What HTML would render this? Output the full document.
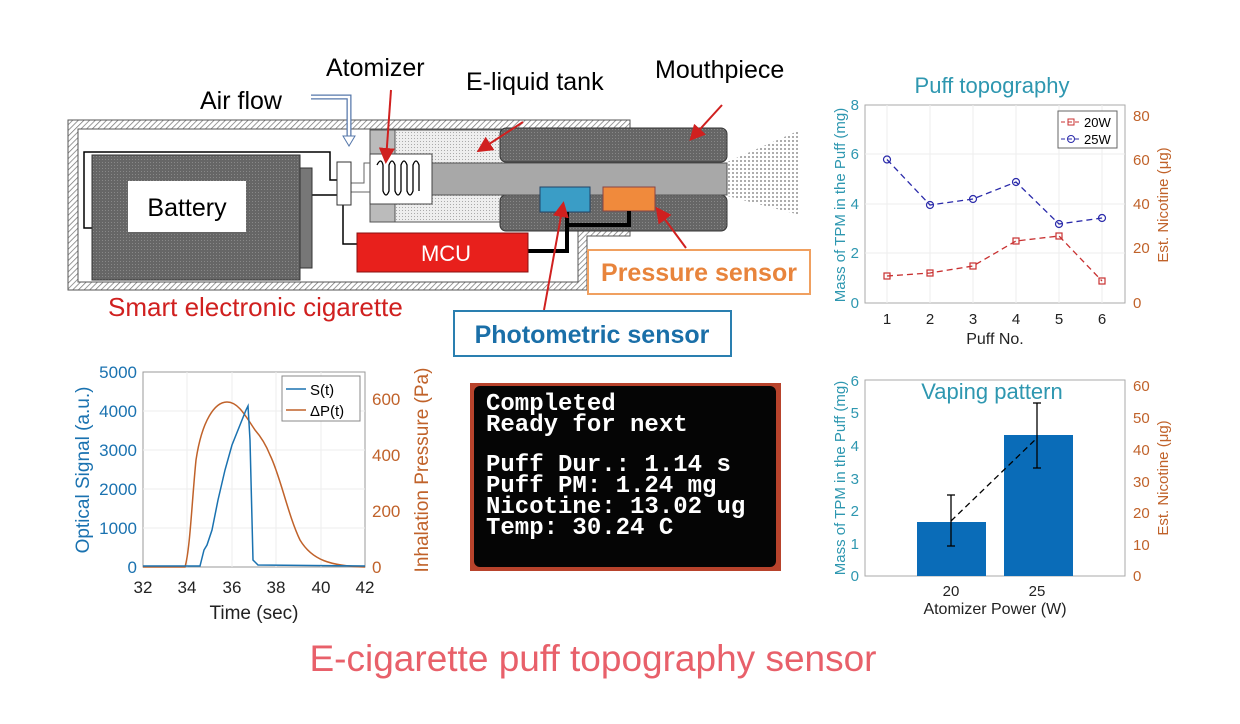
<!DOCTYPE html>
<html><head><meta charset="utf-8"><style>
html,body{margin:0;padding:0;background:#fff;}
svg{display:block;font-family:"Liberation Sans",sans-serif;}
</style></head><body>
<svg width="1240" height="724" viewBox="0 0 1240 724" xmlns="http://www.w3.org/2000/svg">
<defs>
<pattern id="hatch" width="4" height="4" patternUnits="userSpaceOnUse" patternTransform="rotate(45)">
<rect width="4" height="4" fill="#fff"/><line x1="0" y1="0" x2="0" y2="4" stroke="#777" stroke-width="1.5"/></pattern>
<pattern id="dots" width="3" height="3" patternUnits="userSpaceOnUse"><rect width="3" height="3" fill="#eee"/><rect width="1" height="1" fill="#aaa"/></pattern>
<pattern id="grid" width="3" height="3" patternUnits="userSpaceOnUse"><rect width="3" height="3" fill="#666"/><rect width="1" height="1" fill="#888"/></pattern>
<pattern id="spray" width="4" height="4" patternUnits="userSpaceOnUse"><rect width="4" height="4" fill="#fff"/><rect width="2" height="2" fill="#999"/></pattern>
<marker id="ra" markerWidth="8" markerHeight="8" refX="6" refY="4" orient="auto"><path d="M0,0 L8,4 L0,8 z" fill="#d0201f"/></marker>
</defs>

<path d="M68,120 H630 V236 H587 V290 H68 Z M78,129 V282 H578 V228 H620 V129 Z" fill="url(#hatch)" fill-rule="evenodd" stroke="#555"/>
<polygon points="727,162 800,130 800,215 727,196" fill="url(#spray)" opacity="0.8"/>
<path d="M300,225 H310 V195 H337 M337,180 H330 V152 H84 V228 H92" fill="none" stroke="#000" stroke-width="1.5"/>
<path d="M343,205 V244 H357" fill="none" stroke="#000" stroke-width="1.5"/>
<rect x="300" y="168" width="12" height="100" fill="#777" stroke="#333"/>
<rect x="92" y="155" width="208" height="125" fill="url(#grid)" stroke="#333"/>
<rect x="128" y="181" width="118" height="51" fill="#fff"/>
<text x="187" y="216" font-size="25" text-anchor="middle" fill="#000">Battery</text>
<rect x="370" y="130" width="25" height="92" fill="#bbb" stroke="#555"/>
<rect x="395" y="130" width="110" height="92" fill="url(#dots)" stroke="#555"/>
<rect x="500" y="128" width="227" height="34" rx="6" fill="url(#grid)" stroke="#333"/>
<rect x="500" y="195" width="227" height="36" rx="6" fill="url(#grid)" stroke="#333"/>
<rect x="432" y="163" width="295" height="32" fill="#a8a8a8" stroke="#555"/>
<rect x="370" y="154" width="62" height="50" fill="#fff" stroke="#444"/>
<path d="M377,165 q4,-8 6,0 v26 q3,8 6,0 v-26 q3,-8 6,0 v26 q3,8 6,0 v-26 q3,-8 6,0 v26 q3,8 6,0 v-26 q3,-8 6,0 v26" fill="none" stroke="#000" stroke-width="1.3"/>
<path d="M351,183 H364 V163 H370 M351,192 H370" fill="none" stroke="#666"/>
<rect x="337" y="162" width="14" height="43" fill="#fff" stroke="#333"/>
<rect x="540" y="187" width="50" height="25" fill="#3a9dc6" stroke="#246"/>
<rect x="603" y="187" width="52" height="24" fill="#f08a3c" stroke="#844"/>
<path d="M528,251 H567 V212 M567,225 H629 V211" fill="none" stroke="#000" stroke-width="4"/>
<rect x="357" y="233" width="171" height="39" fill="#e8201c" stroke="#811"/>
<text x="446" y="261" font-size="22" text-anchor="middle" fill="#fff">MCU</text>
<path d="M311,97 H349 V137" fill="none" stroke="#5577aa" stroke-width="5"/>
<path d="M311,97 H349 V137" fill="none" stroke="#fff" stroke-width="2.5"/>
<path d="M343,136 L349,146 L355,136 Z" fill="#fff" stroke="#5577aa"/>
<text x="326" y="76" font-size="25" fill="#000">Atomizer</text>
<text x="200" y="109" font-size="25" fill="#000">Air flow</text>
<text x="466" y="90" font-size="25" fill="#000">E-liquid tank</text>
<text x="655" y="78" font-size="25" fill="#000">Mouthpiece</text>
<line x1="391" y1="90" x2="386" y2="160" stroke="#d0201f" stroke-width="2" marker-end="url(#ra)"/>
<line x1="523" y1="122" x2="480" y2="150" stroke="#d0201f" stroke-width="2" marker-end="url(#ra)"/>
<line x1="722" y1="105" x2="692" y2="138" stroke="#d0201f" stroke-width="2" marker-end="url(#ra)"/>
<line x1="686" y1="248" x2="658" y2="210" stroke="#d0201f" stroke-width="2" marker-end="url(#ra)"/>
<line x1="544" y1="310" x2="563" y2="205" stroke="#d0201f" stroke-width="2" marker-end="url(#ra)"/>
<rect x="588" y="250" width="222" height="44" fill="#fff" stroke="#f0a060" stroke-width="2"/>
<text x="699" y="281" font-size="25" font-weight="bold" fill="#e8843c" text-anchor="middle">Pressure sensor</text>
<rect x="454" y="311" width="277" height="45" fill="#fff" stroke="#2a7fb0" stroke-width="2"/>
<text x="592" y="343" font-size="25" font-weight="bold" fill="#1a6fa8" text-anchor="middle">Photometric sensor</text>
<text x="108" y="316" font-size="26" fill="#d0201f">Smart electronic cigarette</text>

<rect x="143" y="372" width="222" height="195" fill="#fff" stroke="#999"/>
<g stroke="#eee">
<line x1="187" y1="372" x2="187" y2="567"/><line x1="232" y1="372" x2="232" y2="567"/><line x1="276" y1="372" x2="276" y2="567"/><line x1="321" y1="372" x2="321" y2="567"/>
<line x1="143" y1="411" x2="365" y2="411"/><line x1="143" y1="450" x2="365" y2="450"/><line x1="143" y1="489" x2="365" y2="489"/><line x1="143" y1="528" x2="365" y2="528"/>
</g>
<path d="M143,567 H185 C190,550 192,500 196,460 C202,420 215,402 227,402 C238,402 245,415 255,430 C262,438 266,445 270,455 C280,475 288,515 300,540 C312,560 330,566 365,567" fill="none" stroke="#c0622a" stroke-width="1.5"/>
<path d="M143,566 H200 L204,550 L207,545 L212,530 L218,500 L225,470 L232,445 L240,425 L246,410 L248,406 L250,440 L253,560 L258,565 L365,566" fill="none" stroke="#1a72b0" stroke-width="1.5"/>
<rect x="282" y="376" width="78" height="45" fill="#fff" stroke="#888"/>
<line x1="286" y1="389" x2="306" y2="389" stroke="#1a72b0" stroke-width="1.5"/>
<text x="310" y="395" font-size="15">S(t)</text>
<line x1="286" y1="410" x2="306" y2="410" stroke="#c0622a" stroke-width="1.5"/>
<text x="310" y="416" font-size="15">ΔP(t)</text>
<g font-size="17" fill="#1a72b0" text-anchor="end">
<text x="137" y="378">5000</text><text x="137" y="417">4000</text><text x="137" y="456">3000</text><text x="137" y="495">2000</text><text x="137" y="534">1000</text><text x="137" y="573">0</text></g>
<g font-size="17" fill="#c0622a">
<text x="372" y="405">600</text><text x="372" y="461">400</text><text x="372" y="517">200</text><text x="372" y="573">0</text></g>
<g font-size="17" text-anchor="middle" fill="#222">
<text x="143" y="593">32</text><text x="187" y="593">34</text><text x="232" y="593">36</text><text x="276" y="593">38</text><text x="321" y="593">40</text><text x="365" y="593">42</text></g>
<text x="254" y="619" font-size="19" text-anchor="middle" fill="#222">Time (sec)</text>
<text transform="translate(89,470) rotate(-90)" font-size="19" fill="#1a72b0" text-anchor="middle">Optical Signal (a.u.)</text>
<text transform="translate(428,470) rotate(-90)" font-size="19" fill="#c0622a" text-anchor="middle">Inhalation Pressure (Pa)</text>

<rect x="470" y="383" width="311" height="188" fill="#b8432c"/>
<rect x="474" y="386" width="302" height="181" rx="6" fill="#050505"/>
<g font-family="Liberation Mono, monospace" font-size="24" fill="#fff" font-weight="bold">
<text x="486" y="410">Completed</text><text x="486" y="431">Ready for next</text>
<text x="486" y="471">Puff Dur.: 1.14 s</text><text x="486" y="492">Puff PM: 1.24 mg</text><text x="486" y="513">Nicotine: 13.02 ug</text><text x="486" y="534">Temp: 30.24 C</text></g>

<text x="992" y="93" font-size="22" fill="#2e97b0" text-anchor="middle">Puff topography</text>
<rect x="865" y="105" width="260" height="198" fill="#fff" stroke="#aaa"/>
<g stroke="#eee"><line x1="887" y1="105" x2="887" y2="303"/><line x1="930" y1="105" x2="930" y2="303"/><line x1="973" y1="105" x2="973" y2="303"/><line x1="1016" y1="105" x2="1016" y2="303"/><line x1="1059" y1="105" x2="1059" y2="303"/><line x1="1102" y1="105" x2="1102" y2="303"/>
<line x1="865" y1="154" x2="1125" y2="154"/><line x1="865" y1="204" x2="1125" y2="204"/><line x1="865" y1="253" x2="1125" y2="253"/></g>
<polyline points="887,159.5 930,205 973,199 1016,182 1059,224 1102,218" fill="none" stroke="#2a2aaa" stroke-dasharray="6,4" stroke-width="1.3"/>
<g fill="none" stroke="#2a2aaa" stroke-width="1.2"><circle cx="887" cy="159.5" r="3.5"/><circle cx="930" cy="205" r="3.5"/><circle cx="973" cy="199" r="3.5"/><circle cx="1016" cy="182" r="3.5"/><circle cx="1059" cy="224" r="3.5"/><circle cx="1102" cy="218" r="3.5"/></g>
<polyline points="887,276 930,273 973,266 1016,241 1059,236 1102,281" fill="none" stroke="#c83030" stroke-dasharray="6,4" stroke-width="1.3"/>
<g fill="none" stroke="#c83030" stroke-width="1.2"><rect x="884" y="273" width="6" height="6"/><rect x="927" y="270" width="6" height="6"/><rect x="970" y="263" width="6" height="6"/><rect x="1013" y="238" width="6" height="6"/><rect x="1056" y="233" width="6" height="6"/><rect x="1099" y="278" width="6" height="6"/></g>
<rect x="1058" y="111" width="59" height="37" fill="#fff" stroke="#666"/>
<line x1="1061" y1="122" x2="1082" y2="122" stroke="#c83030" stroke-dasharray="4,3"/><rect x="1068" y="119" width="6" height="6" fill="none" stroke="#c83030"/>
<text x="1084" y="127" font-size="13">20W</text>
<line x1="1061" y1="139" x2="1082" y2="139" stroke="#2a2aaa" stroke-dasharray="4,3"/><circle cx="1071" cy="139" r="3.5" fill="none" stroke="#2a2aaa"/>
<text x="1084" y="144" font-size="13">25W</text>
<g font-size="15" fill="#2e97b0" text-anchor="end"><text x="859" y="110">8</text><text x="859" y="159">6</text><text x="859" y="209">4</text><text x="859" y="258">2</text><text x="859" y="308">0</text></g>
<g font-size="15" fill="#c0622a"><text x="1133" y="121">80</text><text x="1133" y="165">60</text><text x="1133" y="209">40</text><text x="1133" y="253">20</text><text x="1133" y="308">0</text></g>
<g font-size="15" fill="#222" text-anchor="middle"><text x="887" y="324">1</text><text x="930" y="324">2</text><text x="973" y="324">3</text><text x="1016" y="324">4</text><text x="1059" y="324">5</text><text x="1102" y="324">6</text></g>
<text x="995" y="344" font-size="16" fill="#222" text-anchor="middle">Puff No.</text>
<text transform="translate(845,205) rotate(-90)" font-size="15" fill="#2e97b0" text-anchor="middle">Mass of TPM in the Puff (mg)</text>
<text transform="translate(1168,205) rotate(-90)" font-size="15" fill="#c0622a" text-anchor="middle">Est. Nicotine (μg)</text>

<rect x="865" y="380" width="260" height="196" fill="#fff" stroke="#aaa"/>
<text x="992" y="399" font-size="22" fill="#2e97b0" text-anchor="middle">Vaping pattern</text>
<rect x="917" y="522" width="69" height="54" fill="#0a6cb8"/>
<rect x="1004" y="435" width="69" height="141" fill="#0a6cb8"/>
<g stroke="#000" stroke-width="1.3"><line x1="951" y1="495" x2="951" y2="546"/><line x1="947" y1="495" x2="955" y2="495"/><line x1="947" y1="546" x2="955" y2="546"/>
<line x1="1037" y1="403" x2="1037" y2="468"/><line x1="1033" y1="403" x2="1041" y2="403"/><line x1="1033" y1="468" x2="1041" y2="468"/></g>
<line x1="951" y1="521" x2="1037" y2="438" stroke="#000" stroke-dasharray="6,4" stroke-width="1.3"/>
<g font-size="15" fill="#2e97b0" text-anchor="end"><text x="859" y="386">6</text><text x="859" y="418">5</text><text x="859" y="451">4</text><text x="859" y="484">3</text><text x="859" y="516">2</text><text x="859" y="549">1</text><text x="859" y="581">0</text></g>
<g font-size="15" fill="#c0622a"><text x="1133" y="391">60</text><text x="1133" y="423">50</text><text x="1133" y="455">40</text><text x="1133" y="487">30</text><text x="1133" y="518">20</text><text x="1133" y="550">10</text><text x="1133" y="581">0</text></g>
<g font-size="15" fill="#222" text-anchor="middle"><text x="951" y="596">20</text><text x="1037" y="596">25</text></g>
<text x="995" y="614" font-size="16" fill="#222" text-anchor="middle">Atomizer Power (W)</text>
<text transform="translate(845,478) rotate(-90)" font-size="15" fill="#2e97b0" text-anchor="middle">Mass of TPM in the Puff (mg)</text>
<text transform="translate(1168,478) rotate(-90)" font-size="15" fill="#c0622a" text-anchor="middle">Est. Nicotine (μg)</text>

<text x="593" y="671" font-size="37" fill="#e8606a" text-anchor="middle">E-cigarette puff topography sensor</text>
</svg>
</body></html>
